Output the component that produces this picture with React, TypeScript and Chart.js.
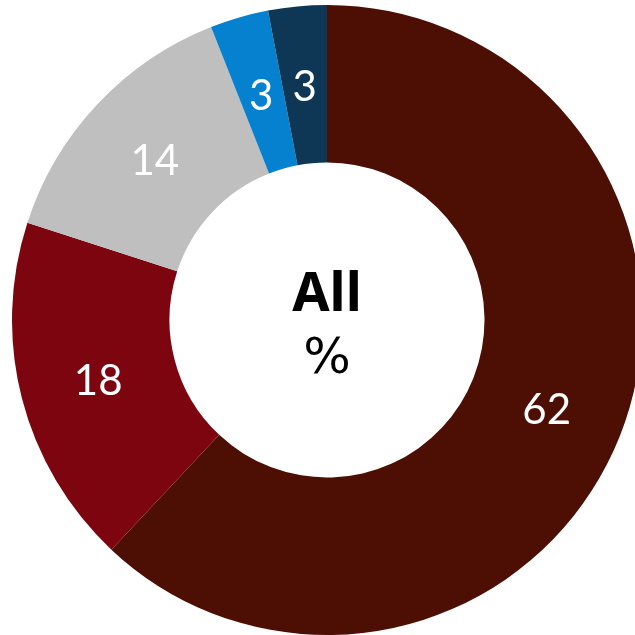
import React, { useEffect, useRef } from "react";
import { Chart, registerables } from "chart.js";

Chart.register(...registerables);

const categories = ["A", "B", "C", "D", "E"];
const values = [62, 18, 14, 3, 3];
const colors = ["#4D0E03", "#7D0510", "#BFBFBF", "#0581D0", "#0D3755"];
const centerTitle = "All";
const centerSub = "%";

const labelPlugin = {
  id: "segLabels",
  afterDatasetsDraw(chart: any) {
    const ctx = chart.ctx;
    const meta = chart.getDatasetMeta(0);
    ctx.save();
    ctx.fillStyle = "#FFFFFF";
    ctx.font = "42px Lato, sans-serif";
    ctx.textAlign = "center";
    ctx.textBaseline = "middle";
    meta.data.forEach((arc: any, i: number) => {
      const p = arc.tooltipPosition();
      ctx.fillText(String(values[i]), p.x, p.y + 3);
    });
    const a0 = meta.data[0];
    const cx = a0.x;
    const cy = a0.y;
    ctx.fillStyle = "#000000";
    ctx.font = "bold 54px 'Noto Sans', sans-serif";
    ctx.fillText(centerTitle, cx, cy - 24);
    ctx.font = "50px 'DejaVu Sans', sans-serif";
    ctx.fillText(centerSub, cx, cy + 40);
    ctx.restore();
  },
};

export default function App() {
  const ref = useRef<HTMLCanvasElement>(null);
  useEffect(() => {
    const chart = new Chart(ref.current!, {
      type: "doughnut",
      data: {
        labels: categories,
        datasets: [
          {
            data: values,
            backgroundColor: colors,
            borderWidth: 0,
          },
        ],
      },
      options: {
        responsive: false,
        animation: false,
        cutout: "50%",
        layout: { padding: 0 },
        plugins: {
          legend: { display: false },
          tooltip: { enabled: false },
        },
      },
      plugins: [labelPlugin],
    });
    return () => chart.destroy();
  }, []);
  return (
    <div
      style={{
        position: "fixed",
        left: 0,
        top: 0,
        width: 635,
        height: 635,
        overflow: "hidden",
        background: "#fff",
      }}
    >
      <canvas
        ref={ref}
        width={630}
        height={630}
        style={{ position: "absolute", left: 12, top: 5, width: 630, height: 630 }}
      />
    </div>
  );
}
